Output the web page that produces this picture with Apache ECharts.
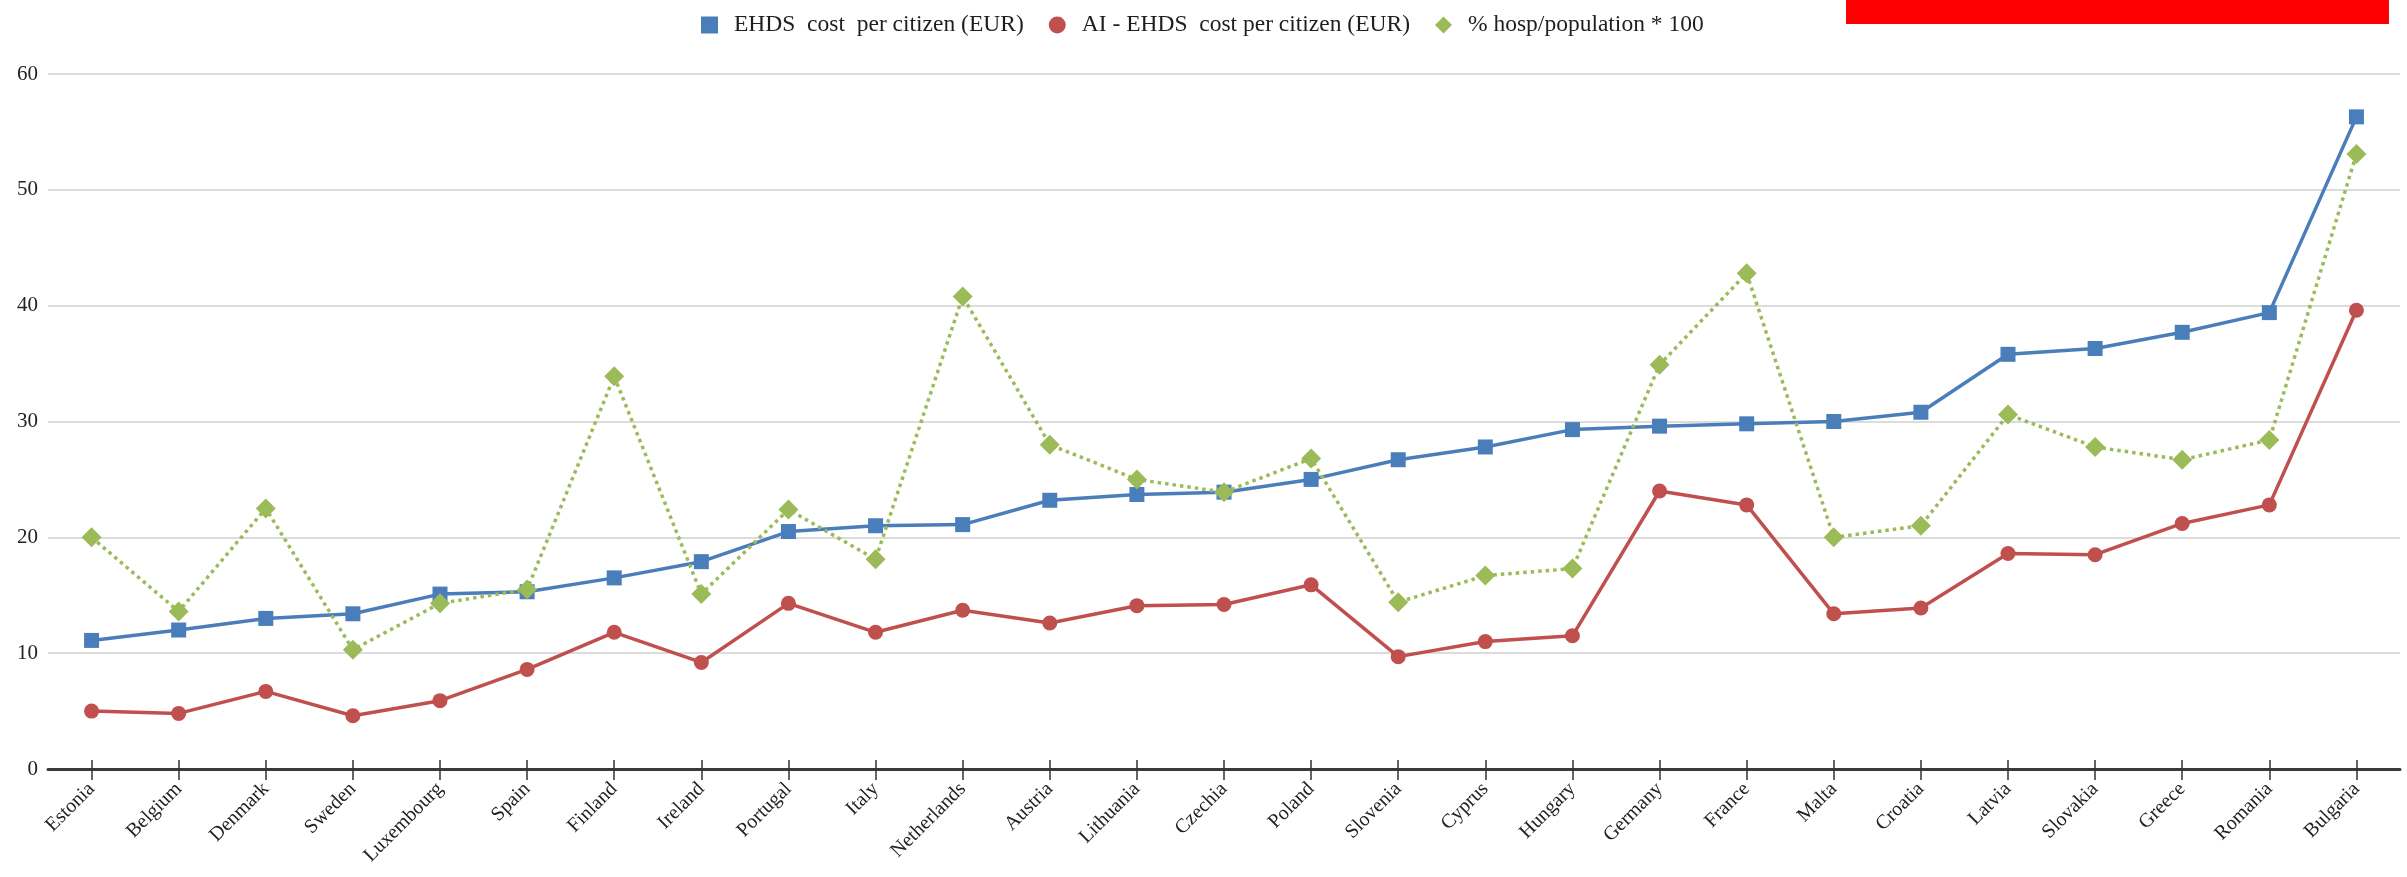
<!DOCTYPE html>
<html>
<head>
<meta charset="utf-8">
<script src="https://cdn.jsdelivr.net/npm/echarts@6/dist/echarts.min.js"></script>
<style>
  html, body { margin: 0; padding: 0; background: #ffffff; }
  #chart { width: 2407px; height: 877px; }
</style>
</head>
<body>
<div id="chart"></div>
<script>
// Countries, ordered by EHDS cost per citizen
const countries = ['Estonia', 'Belgium', 'Denmark', 'Sweden', 'Luxembourg', 'Spain', 'Finland', 'Ireland',
  'Portugal', 'Italy', 'Netherlands', 'Austria', 'Lithuania', 'Czechia', 'Poland', 'Slovenia', 'Cyprus',
  'Hungary', 'Germany', 'France', 'Malta', 'Croatia', 'Latvia', 'Slovakia', 'Greece', 'Romania', 'Bulgaria'];

// EHDS cost per citizen (EUR)
const ehdsCost = [11.1, 12.0, 13.0, 13.4, 15.1, 15.3, 16.5, 17.9, 20.5, 21.0, 21.1, 23.2, 23.7, 23.9, 25.0,
  26.7, 27.8, 29.3, 29.6, 29.8, 30.0, 30.8, 35.8, 36.3, 37.7, 39.4, 56.3];

// AI - EHDS cost per citizen (EUR)
const aiEhdsCost = [5.0, 4.8, 6.7, 4.6, 5.9, 8.6, 11.8, 9.2, 14.3, 11.8, 13.7, 12.6, 14.1, 14.2, 15.9,
  9.7, 11.0, 11.5, 24.0, 22.8, 13.4, 13.9, 18.6, 18.5, 21.2, 22.8, 39.6];

// % hosp/population * 100
const hospShare = [20.0, 13.6, 22.5, 10.3, 14.3, 15.5, 33.9, 15.1, 22.4, 18.1, 40.8, 28.0, 25.0, 23.9, 26.8,
  14.4, 16.7, 17.3, 34.9, 42.8, 20.0, 21.0, 30.6, 27.8, 26.7, 28.4, 53.1];

const seriesNames = ['EHDS  cost  per citizen (EUR)', 'AI - EHDS  cost per citizen (EUR)', '% hosp/population * 100'];

const yTicks = { min: 0, max: 60, interval: 10 };

const FONT = '"Liberation Serif", "Times New Roman", serif';
const BLUE = '#4a7ebb';
const RED = '#c0504d';
const GREEN = '#9bbb59';

const chart = echarts.init(document.getElementById('chart'), null, { renderer: 'canvas' });

chart.setOption({
  animation: false,
  backgroundColor: '#ffffff',
  graphic: [{
    type: 'rect',
    shape: { x: 1846, y: 0, width: 543, height: 24 },
    style: { fill: '#ff0000' },
    z: 10
  }],
  legend: {
    left: 696,
    top: 8,
    itemWidth: 17,
    itemHeight: 17,
    itemGap: 25,
    textStyle: { fontFamily: FONT, fontSize: 23.5, color: '#1e1e1e', padding: [0, 0, 0, 11] },
    data: [
      { name: seriesNames[0], icon: 'rect' },
      { name: seriesNames[1], icon: 'circle' },
      { name: seriesNames[2], icon: 'diamond' }
    ]
  },
  grid: {
    left: 48,
    right: 7,
    top: 74,
    bottom: 108,
    containLabel: false,
    outerBoundsMode: 'none'
  },
  xAxis: [{
    type: 'category',
    data: countries,
    position: 'bottom',
    axisLine: { show: true, lineStyle: { color: '#3a3a3a', width: 3 } },
    axisTick: { show: true, alignWithLabel: true, length: 11, lineStyle: { color: '#333333', width: 1.5 } },
    axisLabel: {
      rotate: 45,
      margin: 17,
      interval: 0,
      fontFamily: FONT,
      fontSize: 20,
      color: '#222222'
    },
    splitLine: { show: false }
  }, {
    type: 'category',
    data: countries,
    position: 'bottom',
    axisLine: { show: false },
    axisTick: { show: true, inside: true, alignWithLabel: true, length: 9, lineStyle: { color: '#333333', width: 1.5 } },
    axisLabel: { show: false },
    splitLine: { show: false }
  }],
  yAxis: {
    type: 'value',
    min: yTicks.min,
    max: yTicks.max,
    interval: yTicks.interval,
    axisLine: { show: false },
    axisTick: { show: false },
    axisLabel: { margin: 10, fontFamily: FONT, fontSize: 21, color: '#222222' },
    splitLine: { show: true, lineStyle: { color: '#dcdcdc', width: 2 } }
  },
  series: [{
    name: seriesNames[0],
    type: 'line',
    xAxisIndex: 0,
    data: ehdsCost,
    symbol: 'rect',
    symbolSize: 15,
    itemStyle: { color: BLUE },
    lineStyle: { color: BLUE, width: 3.5 },
    z: 2
  }, {
    name: seriesNames[1],
    type: 'line',
    xAxisIndex: 0,
    data: aiEhdsCost,
    symbol: 'circle',
    symbolSize: 15,
    itemStyle: { color: RED },
    lineStyle: { color: RED, width: 3.5 },
    z: 3
  }, {
    name: seriesNames[2],
    type: 'line',
    xAxisIndex: 0,
    data: hospShare,
    symbol: 'diamond',
    symbolSize: [20, 20],
    itemStyle: { color: GREEN },
    lineStyle: { color: GREEN, width: 3.5, type: [3.5, 4] },
    z: 4
  }]
});
</script>
</body>
</html>
